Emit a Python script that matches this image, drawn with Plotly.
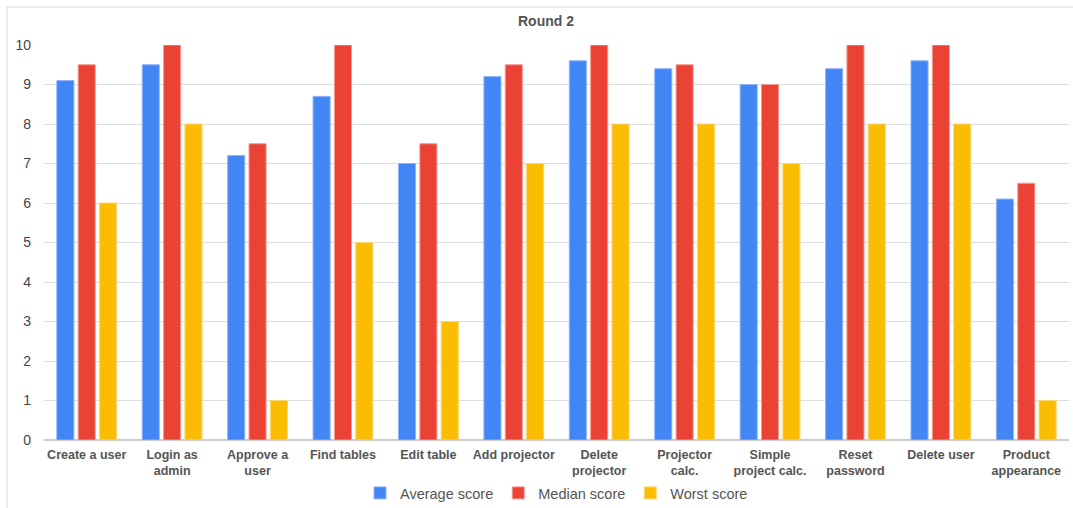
import plotly.graph_objects as go

# Usability test scores per task
tasks = ["Create a user", "Login as admin", "Approve a user", "Find tables", "Edit table",
         "Add projector", "Delete projector", "Projector calc.", "Simple project calc.",
         "Reset password", "Delete user", "Product appearance"]
tick_labels = ["Create a user", "Login as<br>admin", "Approve a<br>user", "Find tables", "Edit table",
               "Add projector", "Delete<br>projector", "Projector<br>calc.", "Simple<br>project calc.",
               "Reset<br>password", "Delete user", "Product<br>appearance"]
average_score = [9.1, 9.5, 7.2, 8.7, 7.0, 9.2, 9.6, 9.4, 9.0, 9.4, 9.6, 6.1]
median_score = [9.5, 10, 7.5, 10, 7.5, 9.5, 10, 9.5, 9.0, 10, 10, 6.5]
worst_score = [6, 8, 1, 5, 3, 7, 8, 8, 7, 8, 8, 1]

series = [
    ("Average score", average_score, "#4285F4", "#8FB4F8"),
    ("Median score", median_score, "#EA4335", "#F29A92"),
    ("Worst score", worst_score, "#FBBC04", "#FCD66E"),
]

fig = go.Figure()
for name, vals, color, edge in series:
    fig.add_trace(go.Bar(
        x=tasks, y=vals, name=name,
        marker=dict(color=color, line=dict(color=edge, width=1)),
        hoverinfo="x+y+name",
    ))

fig.update_layout(
    width=1073, height=508,
    margin=dict(l=44, r=4, t=45, b=68, autoexpand=False),
    paper_bgcolor="white", plot_bgcolor="white",
    font=dict(family="Liberation Sans, Arial, sans-serif", color="#444444"),
    barmode="group", bargap=0.25, bargroupgap=0.2,
    title=dict(text="<b>Round 2</b>", x=546 / 1073, xanchor="center",
               y=1 - 21 / 508, yanchor="middle", yref="container",
               font=dict(size=14, color="#555555")),
    legend=dict(orientation="h", x=0.5, xanchor="center",
                yref="container", y=1 - 493 / 508, yanchor="middle",
                font=dict(size=14.5, color="#555555"), itemwidth=30,
                traceorder="normal"),
    showlegend=True,
)
fig.update_xaxes(
    tickmode="array", tickvals=tasks, ticktext=["<b>%s</b>" % t for t in tick_labels],
    tickfont=dict(size=12.5, color="#555555"), showgrid=False,
    showline=False, ticks="", ticklabelstandoff=5, automargin=False,
)
fig.update_yaxes(
    range=[0, 10], dtick=1, showgrid=True, gridcolor="#DDDDDD", gridwidth=1,
    zeroline=True, zerolinecolor="#CCCCCC", zerolinewidth=1.5,
    tickfont=dict(size=14, color="#444444"), ticklabelstandoff=12, automargin=False,
)

# Outer chart frame
fig.add_shape(type="rect", xref="paper", yref="paper",
              x0=-0.0361, x1=1.05, y0=-0.3, y1=1.096,
              line=dict(color="#D9D9D9", width=1), fillcolor="rgba(0,0,0,0)", layer="below")

fig.write_html("out.html")
